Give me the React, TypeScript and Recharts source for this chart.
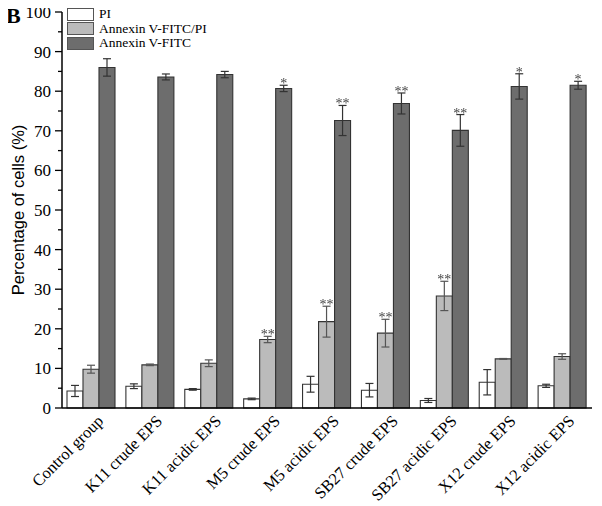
import React from "react";
import { BarChart, Bar, XAxis, YAxis, ErrorBar, LabelList } from "recharts";

const categories = [
  "Control group",
  "K11 crude EPS",
  "K11 acidic EPS",
  "M5 crude EPS",
  "M5 acidic EPS",
  "SB27 crude EPS",
  "SB27 acidic EPS",
  "X12 crude EPS",
  "X12 acidic EPS",
];

const piValues = [4.3, 5.5, 4.7, 2.3, 6.0, 4.5, 1.9, 6.5, 5.6];
const piErrors = [1.4, 0.6, 0.2, 0.2, 2.0, 1.7, 0.5, 3.2, 0.4];
const dualValues = [9.8, 10.9, 11.3, 17.3, 21.8, 18.9, 28.3, 12.4, 13.0];
const dualErrors = [1.0, 0.2, 0.85, 0.8, 3.9, 3.5, 3.7, 0.1, 0.7];
const annexinValues = [86.0, 83.6, 84.2, 80.7, 72.6, 76.9, 70.1, 81.2, 81.5];
const annexinErrors = [2.2, 0.75, 0.8, 0.8, 3.8, 2.65, 4.0, 3.2, 1.0];
const dualStars = ["", "", "", "**", "**", "**", "**", "", ""];
const annexinStars = ["", "", "", "*", "**", "**", "**", "*", "*"];
const yTicks = [0, 5, 10, 15, 20, 25, 30, 35, 40, 45, 50, 55, 60, 65, 70, 75, 80, 85, 90, 95, 100];

const seriesNames = ["PI", "Annexin V-FITC/PI", "Annexin V-FITC"];
const seriesColors = ["#ffffff", "#bbbbbb", "#6d6d6d"];

const data = categories.map((name, i) => ({
  name,
  pi: piValues[i],
  piErr: piErrors[i],
  dual: dualValues[i],
  dualErr: dualErrors[i],
  annexin: annexinValues[i],
  annexinErr: annexinErrors[i],
  dualStar: dualStars[i],
  annexinStar: annexinStars[i],
}));

const font = "'Liberation Serif', 'Times New Roman', serif";

function YTick(props: any) {
  const { x, y, payload } = props;
  const major = payload.value % 10 === 0;
  return (
    <g>
      <line x1={x - (major ? 7 : 4)} y1={y} x2={x} y2={y} stroke="#000" strokeWidth={1.3} />
      {major && (
        <text x={x - 11} y={y} dy={6} textAnchor="end" fontSize={17} fontFamily={font} fill="#000">
          {payload.value}
        </text>
      )}
    </g>
  );
}

function XTick(props: any) {
  const { x, y, payload } = props;
  const tx = x + 13;
  const ty = y + 14;
  return (
    <text
      x={tx}
      y={ty}
      textAnchor="end"
      fontSize={16.5}
      fontFamily={font}
      fill="#000"
      transform={`rotate(-45, ${tx}, ${ty})`}
    >
      {payload.value}
    </text>
  );
}

function starLabel(values: number[], errors: number[]) {
  return (props: any) => {
    const { x, y, width, height, value, index } = props;
    if (!value) return null;
    const perUnit = height / values[index];
    const top = y - errors[index] * perUnit;
    return (
      <text
        x={x + width / 2}
        y={top + 3}
        textAnchor="middle"
        fontSize={14}
        fontFamily={font}
        fill="#444"
        filter="url(#gray-aa)"
      >
        {value}
      </text>
    );
  };
}

export default function App() {
  return (
    <div style={{ position: "relative", width: 602, height: 506, margin: "-8px 0 0 -8px", background: "#fff" }}>
      <div
        style={{
          position: "absolute",
          left: 6,
          top: 4,
          fontFamily: font,
          fontWeight: "bold",
          fontSize: 22,
          lineHeight: "24px",
        }}
      >
        B
      </div>
      <div
        style={{
          position: "absolute",
          left: 67,
          top: 7,
          fontFamily: font,
          fontSize: 13.5,
          lineHeight: "14.5px",
          zIndex: 2,
        }}
      >
        {seriesNames.map((n, i) => (
          <div key={n} style={{ display: "flex", alignItems: "center", height: 14.5 }}>
            <div
              style={{
                width: 25,
                height: 11,
                background: seriesColors[i],
                border: "1px solid #555",
                marginRight: 5,
              }}
            />
            <span>{n}</span>
          </div>
        ))}
      </div>
      <BarChart
        width={602}
        height={506}
        data={data}
        margin={{ top: 12, right: 10, left: 0, bottom: 0 }}
        barGap={0}
      >
        <defs>
          <filter id="gray-aa">
            <feOffset dx={0} dy={0} />
          </filter>
        </defs>
        <XAxis
          dataKey="name"
          height={98}
          interval={0}
          tickLine={false}
          tickSize={0}
          tickMargin={0}
          tick={<XTick />}
          axisLine={{ stroke: "#000", strokeWidth: 1.5 }}
        />
        <YAxis
          width={62}
          domain={[0, 100]}
          ticks={yTicks}
          interval={0}
          tick={<YTick />}
          tickLine={false}
          tickSize={0}
          tickMargin={0}
          axisLine={{ stroke: "#000", strokeWidth: 1.5 }}
          label={{
            value: "Percentage of cells (%)",
            angle: -90,
            position: "insideLeft",
            dx: 13,
            style: { textAnchor: "middle", fontFamily: "'Liberation Sans', Arial, sans-serif", fontSize: 16.5, fill: "#000" },
          }}
        />
        <Bar dataKey="pi" name={seriesNames[0]} fill={seriesColors[0]} stroke="#333" strokeWidth={1.1} barSize={16} isAnimationActive={false}>
          <ErrorBar dataKey="piErr" width={4} stroke="#333" strokeWidth={1.2} />
        </Bar>
        <Bar dataKey="dual" name={seriesNames[1]} fill={seriesColors[1]} stroke="#333" strokeWidth={1.1} barSize={16} isAnimationActive={false}>
          <ErrorBar dataKey="dualErr" width={4} stroke="#555" strokeWidth={1.2} />
          <LabelList dataKey="dualStar" content={starLabel(dualValues, dualErrors)} />
        </Bar>
        <Bar dataKey="annexin" name={seriesNames[2]} fill={seriesColors[2]} stroke="#333" strokeWidth={1.1} barSize={16} isAnimationActive={false}>
          <ErrorBar dataKey="annexinErr" width={4} stroke="#333" strokeWidth={1.2} />
          <LabelList dataKey="annexinStar" content={starLabel(annexinValues, annexinErrors)} />
        </Bar>
      </BarChart>
    </div>
  );
}
